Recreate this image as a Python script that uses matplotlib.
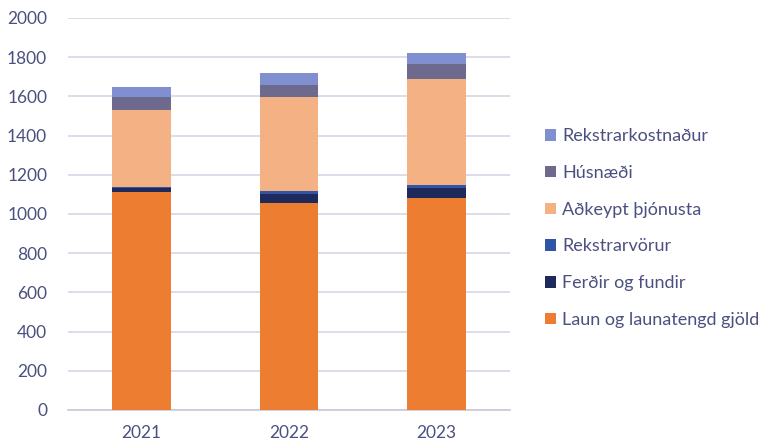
import matplotlib
matplotlib.use("Agg")
import matplotlib.pyplot as plt
import numpy as np

years = ["2021", "2022", "2023"]
laun = [1110, 1058, 1080]
ferdir = [20, 45, 55]
rekstrarvorur = [10, 12, 15]
adkeypt = [390, 480, 540]
husnaedi = [65, 65, 75]
rekstrarkostn = [55, 60, 55]

series = [
    ("Laun og launatengd gjöld", laun, "#ED7D31"),
    ("Ferðir og fundir", ferdir, "#1F2A5C"),
    ("Rekstrarvörur", rekstrarvorur, "#2F55A4"),
    ("Aðkeypt þjónusta", adkeypt, "#F4B183"),
    ("Húsnæði", husnaedi, "#6E6A8E"),
    ("Rekstrarkostnaður", rekstrarkostn, "#7F8FCF"),
]

plt.rcParams['font.family'] = ['Lato', 'DejaVu Sans']
text_color = "#4B5080"

fig = plt.figure(figsize=(7.64, 4.44), dpi=100)
ax = fig.add_axes([0.089, 0.0766, 0.5785, 0.883])

x = np.arange(len(years))
bottom = np.zeros(len(years))
handles = []
for name, vals, col in series:
    b = ax.bar(x, vals, 0.4, bottom=bottom, color=col, label=name, zorder=3)
    handles.append(b)
    bottom += np.array(vals)

ax.set_xlim(-0.5, 2.5)
ax.set_ylim(0, 2000)
ax.set_yticks(np.arange(0, 2001, 200))
ax.set_xticks(x)
ax.set_xticklabels(years)
ax.yaxis.grid(True, color="#D5D6E6", linewidth=1.2, zorder=0)
for s in ["top", "right", "left"]:
    ax.spines[s].set_visible(False)
ax.spines["bottom"].set_color("#C8C9DA")
ax.spines["bottom"].set_linewidth(1.2)
ax.tick_params(axis="both", length=0, labelsize=12.5, colors=text_color)
ax.tick_params(axis="y", pad=15)
ax.tick_params(axis="x", pad=11)

leg = fig.legend(handles[::-1], [s[0] for s in series][::-1],
                 loc="upper left", bbox_to_anchor=(0.692, 0.748),
                 frameon=False, fontsize=13, labelcolor=text_color,
                 handlelength=0.6, handleheight=0.6, handletextpad=0.35,
                 labelspacing=1.15)

fig.savefig("out.png", dpi=100)
